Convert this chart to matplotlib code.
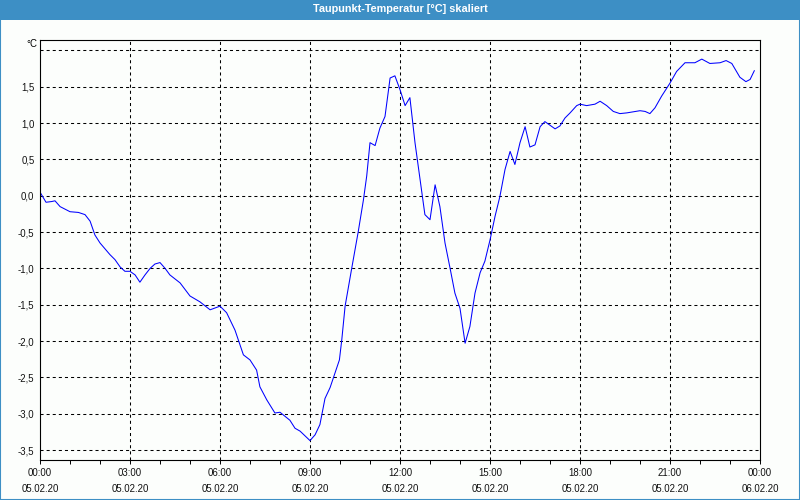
import matplotlib
matplotlib.use("Agg")
import matplotlib.pyplot as plt
from matplotlib.patches import Rectangle

# Taupunkt-Temperatur, 05.02.20 00:00 bis 06.02.20 00:00 (Stunden / °C)
stunden = [0.0, 0.2, 0.39, 0.5, 0.67, 1.0, 1.28, 1.5, 1.67, 1.83, 2.0, 2.33, 2.5, 2.67, 2.83,
           3.0, 3.17, 3.33, 3.5, 3.67, 3.83, 4.0, 4.17, 4.33, 4.67, 5.0, 5.33, 5.67, 6.0, 6.22,
           6.5, 6.78, 7.0, 7.22, 7.33, 7.56, 7.83, 8.0, 8.33, 8.5, 8.67, 9.0, 9.17, 9.33, 9.5,
           9.67, 9.98, 10.06, 10.17, 10.39, 10.61, 10.78, 10.89, 11.0, 11.17, 11.33, 11.5, 11.67,
           11.83, 12.0, 12.17, 12.33, 12.5, 12.67, 12.83, 13.0, 13.17, 13.33, 13.5, 13.67, 13.83,
           14.0, 14.17, 14.33, 14.5, 14.67, 14.83, 15.0, 15.17, 15.33, 15.5, 15.67, 15.83, 16.0,
           16.17, 16.33, 16.5, 16.67, 16.83, 17.17, 17.33, 17.5, 17.67, 17.89, 18.0, 18.22, 18.5,
           18.67, 18.89, 19.11, 19.33, 19.56, 20.0, 20.17, 20.33, 20.5, 20.72, 21.0, 21.22, 21.5,
           21.83, 22.06, 22.33, 22.67, 22.87, 23.06, 23.33, 23.53, 23.67, 23.81]
taupunkt = [0.05, -0.09, -0.08, -0.07, -0.15, -0.22, -0.23, -0.26, -0.35, -0.54, -0.65, -0.81,
            -0.88, -0.98, -1.04, -1.04, -1.09, -1.19, -1.09, -1.0, -0.94, -0.92, -1.0, -1.09,
            -1.2, -1.38, -1.46, -1.57, -1.52, -1.61, -1.85, -2.19, -2.26, -2.4, -2.63, -2.81,
            -2.99, -2.98, -3.09, -3.2, -3.24, -3.37, -3.29, -3.15, -2.79, -2.64, -2.26, -1.98,
            -1.52, -1.0, -0.49, -0.06, 0.27, 0.73, 0.69, 0.93, 1.09, 1.62, 1.65, 1.46, 1.24,
            1.35, 0.73, 0.22, -0.26, -0.33, 0.15, -0.15, -0.65, -1.0, -1.34, -1.55, -2.03, -1.8,
            -1.34, -1.06, -0.9, -0.61, -0.28, -0.01, 0.36, 0.61, 0.43, 0.73, 0.95, 0.67, 0.7,
            0.95, 1.02, 0.92, 0.96, 1.07, 1.14, 1.24, 1.26, 1.24, 1.26, 1.3, 1.24, 1.16, 1.13,
            1.14, 1.17, 1.16, 1.13, 1.21, 1.37, 1.55, 1.71, 1.83, 1.83, 1.88, 1.82, 1.83, 1.86,
            1.82, 1.63, 1.57, 1.6, 1.72]

x_ticks = [0, 3, 6, 9, 12, 15, 18, 21, 24]
x_labels = ["00:00\n05.02.20", "03:00\n05.02.20", "06:00\n05.02.20", "09:00\n05.02.20",
            "12:00\n05.02.20", "15:00\n05.02.20", "18:00\n05.02.20", "21:00\n05.02.20",
            "00:00\n06.02.20"]
y_ticks = [-3.5, -3.0, -2.5, -2.0, -1.5, -1.0, -0.5, 0.0, 0.5, 1.0, 1.5]
y_labels = ["-3,5", "-3,0", "-2,5", "-2,0", "-1,5", "-1,0", "-0,5", "0,0", "0,5", "1,0", "1,5"]

plt.rcParams["font.family"] = ["Liberation Sans", "DejaVu Sans"]
plt.rcParams["lines.scale_dashes"] = False

blau = "#3d8fc5"
fig = plt.figure(figsize=(8, 5), dpi=100, facecolor="#fcfefc")

# Fensterrahmen + Titelleiste
fig.patches.append(Rectangle((0, 0), 1, 1, transform=fig.transFigure, fill=False,
                             edgecolor=blau, linewidth=1.5))
fig.patches.append(Rectangle((0, 0.96), 1, 0.04, transform=fig.transFigure,
                             facecolor=blau, edgecolor="none"))
fig.text(0.5, 0.981, "Taupunkt-Temperatur [°C] skaliert", color="white",
         fontsize=7.8, fontweight="bold", ha="center", va="center")

ax = fig.add_axes([0.05, 0.08, 0.90, 0.84])
ax.set_facecolor("#fcfefc")
ax.plot(stunden, taupunkt, color="#0000ff", linewidth=0.75)

ax.set_xlim(0, 24)
ax.set_ylim(-3.637, 2.143)

ax.set_xticks(x_ticks)
ax.set_xticklabels(x_labels, fontsize=6.9, linespacing=1.65, color="#111111")
ax.set_xticks(range(25), minor=True)
ax.tick_params(axis="x", which="both", direction="out", length=3, width=0.7, pad=3)
ax.set_yticks(y_ticks + [2.0])
ax.set_yticklabels(y_labels + [""], fontsize=6.9, color="#111111")
ax.tick_params(axis="y", length=0, pad=4)

# Gitter gestrichelt
for h in x_ticks[1:-1]:
    ax.axvline(h, color="black", linewidth=0.75, dashes=(2.2, 2.2), zorder=1)
for v in y_ticks + [2.0]:
    ax.axhline(v, color="black", linewidth=0.75, dashes=(2.2, 2.2), zorder=1)

for s in ax.spines.values():
    s.set_linewidth(0.8)
    s.set_color("black")

ax.text(-0.004, 0.99, "°C", transform=ax.transAxes, ha="right", va="center", fontsize=6.9)

fig.savefig("out.png", dpi=100, facecolor=fig.get_facecolor())
